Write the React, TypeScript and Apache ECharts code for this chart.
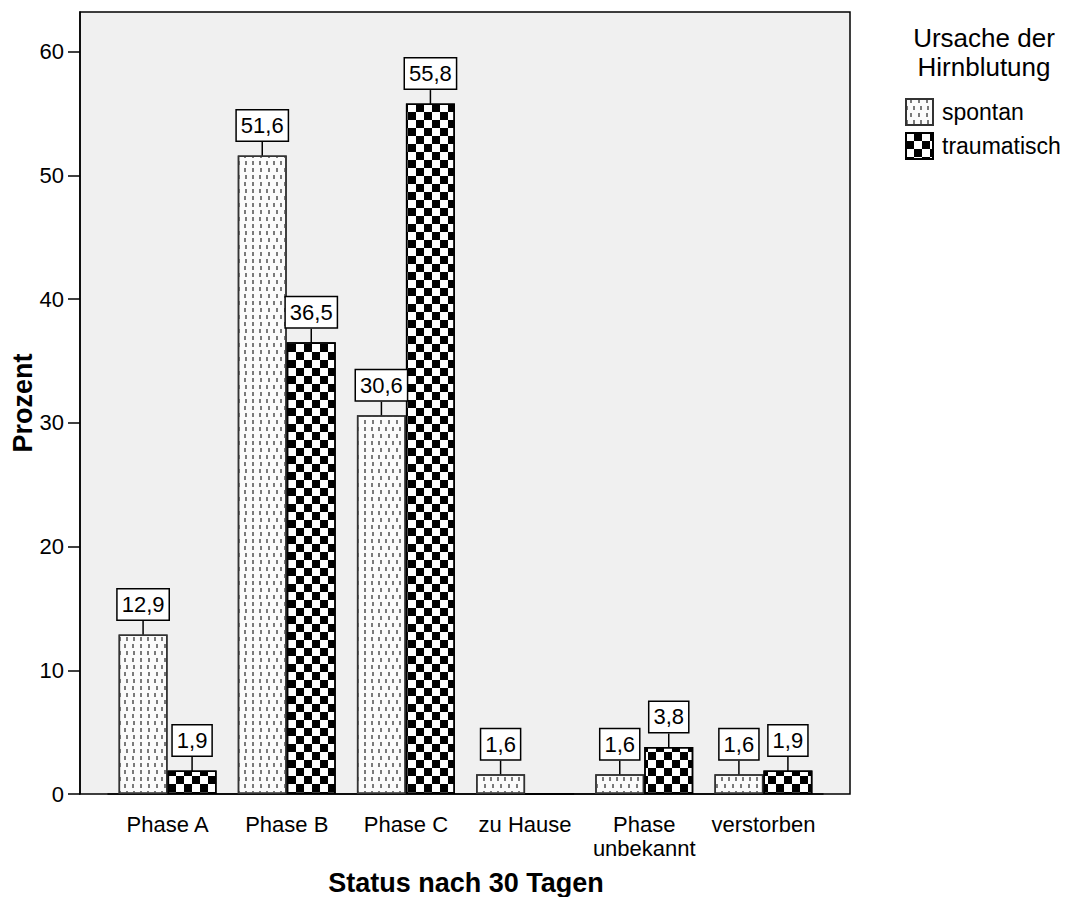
import React, { useEffect, useRef } from "react";
import * as echarts from "echarts";

const categories = ["Phase A", "Phase B", "Phase C", "zu Hause", "Phase\nunbekannt", "verstorben"];
const spontanValues = [12.9, 51.6, 30.6, 1.6, 1.6, 1.6];
const traumatischValues = [1.9, 36.5, 55.8, 0, 3.8, 1.9];
const yTickValues = [0, 10, 20, 30, 40, 50, 60];
const seriesNames = ["spontan", "traumatisch"];
const legendTitle = "Ursache der\nHirnblutung";
const xTitle = "Status nach 30 Tagen";
const yTitle = "Prozent";

const FONT = "'Liberation Sans', Arial, sans-serif";

const fmt = (v: number) => v.toFixed(1).replace(".", ",");

export default function App() {
  const ref = useRef<HTMLDivElement>(null);
  useEffect(() => {
    document.body.style.margin = "0";
    if (!ref.current) return;
    const chart = echarts.init(ref.current, undefined, { renderer: "svg" });

    const labelCfg = {
      show: true,
      position: "top",
      distance: 0,
      formatter: (p: any) => fmt(p.value),
      fontSize: 22,
      lineHeight: 22,
      color: "#000",
      fontFamily: FONT,
      backgroundColor: "#fff",
      borderColor: "#000",
      borderWidth: 1.5,
      padding: [4, 4, 4, 4],
    };

    const toData = (vals: number[]) =>
      vals.map((v) => (v === 0 ? { value: v, label: { show: false }, labelLine: { show: false } } : v));

    const option: any = {
      animation: false,
      backgroundColor: "#fff",
      textStyle: { fontFamily: FONT, color: "#000" },
      grid: { left: 108, right: 249, top: 12, bottom: 103, containLabel: false },
      graphic: [
        {
          type: "rect",
          z: -10,
          shape: { x: 80, y: 12, width: 770, height: 782 },
          style: { fill: "#f0f0f0", stroke: "#000", lineWidth: 1.5 },
        },
        {
          type: "text",
          x: 23,
          y: 403,
          rotation: Math.PI / 2,
          style: { text: yTitle, font: `bold 27px ${FONT}`, fill: "#000", align: "center", verticalAlign: "middle" },
        },
        {
          type: "text",
          x: 466,
          y: 883,
          style: { text: xTitle, font: `bold 27px ${FONT}`, fill: "#000", align: "center", verticalAlign: "middle" },
        },
        {
          type: "text",
          x: 984,
          y: 52,
          style: {
            text: legendTitle,
            font: `26px ${FONT}`,
            lineHeight: 29,
            fill: "#000",
            align: "center",
            verticalAlign: "middle",
          },
        },
      ],
      legend: {
        data: seriesNames,
        left: 905,
        top: 98,
        orient: "vertical",
        icon: "rect",
        itemWidth: 27,
        itemHeight: 26,
        itemGap: 6,
        padding: 0,
        textStyle: { fontSize: 23, color: "#000", fontFamily: FONT, padding: [0, 0, 0, 4] },
      },
      xAxis: {
        type: "category",
        data: categories,
        axisLine: { lineStyle: { color: "#000", width: 1.5 } },
        axisTick: { alignWithLabel: true, length: 15, lineStyle: { color: "#000", width: 1.5 } },
        axisLabel: { fontSize: 22, color: "#000", margin: 18, lineHeight: 24, interval: 0, fontFamily: FONT },
      },
      yAxis: {
        type: "value",
        min: 0,
        max: 63.2,
        interval: 10,
        offset: 28,
        axisLine: { show: true, lineStyle: { color: "#000", width: 1.5 } },
        axisTick: { show: true, length: 12, customValues: yTickValues, lineStyle: { color: "#000", width: 1.5 } },
        axisLabel: { fontSize: 22, color: "#000", margin: 16, customValues: yTickValues, fontFamily: FONT },
        splitLine: { show: false },
      },
      series: [
        {
          name: seriesNames[0],
          type: "bar",
          data: toData(spontanValues),
          barWidth: 49,
          barGap: "0%",
          itemStyle: {
            color: "#fbfbfb",
            borderColor: "#333",
            borderWidth: 1.5,
            decal: {
              symbol: "rect",
              symbolSize: 1,
              color: "#7a7a7a",
              dashArrayX: [
                [2, 5],
                [0, 3.5, 2, 1.5],
              ],
              dashArrayY: [4, 3],
              rotation: 0,
            },
          },
          label: labelCfg,
          labelLayout: { dy: -15 },
          labelLine: { show: true, lineStyle: { color: "#000", width: 1.5 } },
        },
        {
          name: seriesNames[1],
          type: "bar",
          data: toData(traumatischValues),
          barWidth: 49,
          barGap: "0%",
          itemStyle: {
            color: "#fff",
            borderColor: "#000",
            borderWidth: 1.5,
            decal: {
              symbol: "rect",
              symbolSize: 1,
              color: "#000",
              dashArrayX: [
                [7.5, 7.5],
                [0, 7.5, 7.5, 0],
              ],
              dashArrayY: [7.5, 0],
              rotation: 0,
            },
          },
          label: labelCfg,
          labelLayout: { dy: -15 },
          labelLine: { show: true, lineStyle: { color: "#000", width: 1.5 } },
        },
      ],
    };
    chart.setOption(option);
    return () => chart.dispose();
  }, []);
  return <div ref={ref} style={{ width: 1072, height: 897 }} />;
}
